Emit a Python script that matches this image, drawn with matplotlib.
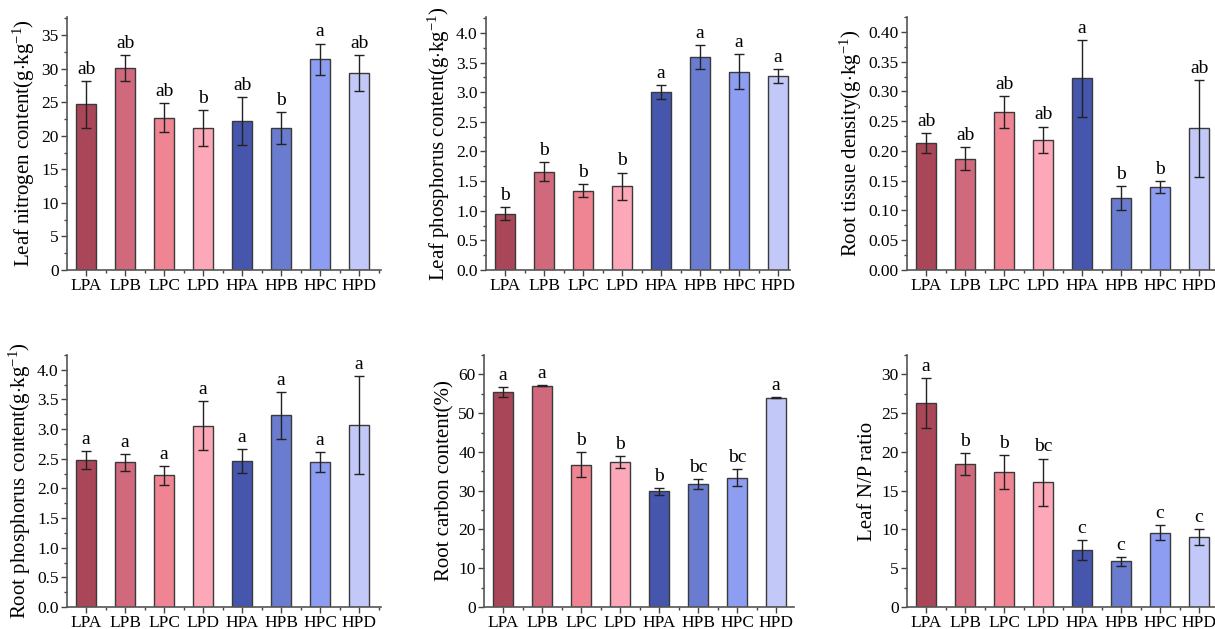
import matplotlib
matplotlib.use("Agg")
import matplotlib.pyplot as plt
from matplotlib.ticker import MultipleLocator, AutoMinorLocator
import numpy as np

plt.rcParams['font.family'] = ['Liberation Serif', 'DejaVu Serif']
plt.rcParams['mathtext.fontset'] = 'custom'
plt.rcParams['mathtext.rm'] = 'Liberation Serif'
plt.rcParams['mathtext.it'] = 'Liberation Serif:italic'
plt.rcParams['mathtext.bf'] = 'Liberation Serif:bold'

groups = ["LPA", "LPB", "LPC", "LPD", "HPA", "HPB", "HPC", "HPD"]
colors = ["#A94658", "#D0697C", "#EF8593", "#FCA8B8",
          "#4656AC", "#6A7CD0", "#8D9DF1", "#C2C8F8"]

# leaf nitrogen content
ln_mean = [24.7, 30.1, 22.7, 21.2, 22.2, 21.2, 31.4, 29.3]
ln_err = [3.5, 2.0, 2.2, 2.65, 3.6, 2.4, 2.35, 2.7]
ln_sig = ["ab", "ab", "ab", "b", "ab", "b", "a", "ab"]

# leaf phosphorus content
lp_mean = [0.95, 1.66, 1.34, 1.41, 3.00, 3.59, 3.35, 3.28]
lp_err = [0.11, 0.16, 0.11, 0.235, 0.12, 0.20, 0.29, 0.12]
lp_sig = ["b", "b", "b", "b", "a", "a", "a", "a"]

# root tissue density
rtd_mean = [0.213, 0.187, 0.266, 0.219, 0.322, 0.121, 0.140, 0.238]
rtd_err = [0.017, 0.019, 0.027, 0.022, 0.065, 0.020, 0.010, 0.081]
rtd_sig = ["ab", "ab", "ab", "ab", "a", "b", "b", "ab"]

# root phosphorus content
rp_mean = [2.48, 2.44, 2.22, 3.06, 2.46, 3.23, 2.45, 3.07]
rp_err = [0.15, 0.145, 0.155, 0.42, 0.20, 0.395, 0.17, 0.825]
rp_sig = ["a", "a", "a", "a", "a", "a", "a", "a"]

# root carbon content
rc_mean = [55.4, 57.1, 36.7, 37.4, 29.8, 31.8, 33.4, 54.0]
rc_err = [1.35, 0.2, 3.2, 1.55, 0.8, 1.3, 2.3, 0.1]
rc_sig = ["a", "a", "b", "b", "b", "bc", "bc", "a"]

# leaf N/P ratio
np_mean = [26.3, 18.4, 17.4, 16.1, 7.4, 5.9, 9.6, 9.04]
np_err = [3.2, 1.4, 2.2, 3.05, 1.3, 0.55, 1.0, 1.0]
np_sig = ["a", "b", "b", "bc", "c", "c", "c", "c"]

W, H = 1215, 629
fig = plt.figure(figsize=(W / 100, H / 100), dpi=100)

step = 39.0  # px between bar centres
unit = r"(g$\cdot$kg$^{\mathrm{-1}}$)"


def panel(left_px, top_px, bottom_px, xr, mean, err, sig, ylabel, ymax, major, fmt):
    width_px = (xr + 0.49) * step
    ax = fig.add_axes([left_px / W, 1 - bottom_px / H, width_px / W, (bottom_px - top_px) / H])
    x = np.arange(len(groups))
    ax.bar(x, mean, width=0.5, color=colors, edgecolor="#3a3a3a", linewidth=1.0,
           yerr=err, capsize=3.5, error_kw=dict(ecolor="#222222", elinewidth=1.0, capthick=1.0))
    off = ymax * 0.012
    for xi, m, e, s in zip(x, mean, err, sig):
        ax.text(xi, m + e + off, s, ha="center", va="bottom", fontsize=14)
    ax.set_xlim(-0.49, xr)
    ax.set_ylim(0, ymax)
    ax.set_xticks(x)
    ax.set_xticklabels(groups, fontsize=12.5)
    ax.xaxis.set_minor_locator(MultipleLocator(0.5))
    ax.yaxis.set_major_locator(MultipleLocator(major))
    ax.yaxis.set_minor_locator(AutoMinorLocator(2))
    ax.yaxis.set_major_formatter(plt.FormatStrFormatter(fmt))
    ax.tick_params(axis="y", labelsize=12.5)
    ax.tick_params(which="major", direction="out", length=4, width=1, color="#444444", pad=2)
    ax.tick_params(which="minor", direction="out", length=2.5, width=1, color="#444444")
    for sp in ["top", "right"]:
        ax.spines[sp].set_visible(False)
    for sp in ["left", "bottom"]:
        ax.spines[sp].set_color("#555555")
        ax.spines[sp].set_linewidth(1.2)
    ax.set_ylabel(ylabel, fontsize=15, labelpad=3)
    return ax


panel(67, 17, 270, 7.55, ln_mean, ln_err, ln_sig,
      "Leaf nitrogen content" + unit, 37.7, 5, "%d")
panel(486, 17, 270, 7.3, lp_mean, lp_err, lp_sig,
      "Leaf phosphorus content" + unit, 4.27, 0.5, "%.1f")
panel(907, 17, 270, 7.6, rtd_mean, rtd_err, rtd_sig,
      "Root tissue density" + unit, 0.425, 0.05, "%.2f")
panel(67, 355, 607, 7.55, rp_mean, rp_err, rp_sig,
      "Root phosphorus content" + unit, 4.25, 0.5, "%.1f")
panel(484, 355, 607, 7.45, rc_mean, rc_err, rc_sig,
      "Root carbon content(%)", 65, 10, "%d")
panel(907, 355, 607, 7.6, np_mean, np_err, np_sig,
      "Leaf N/P ratio", 32.5, 5, "%d")

fig.savefig("out.png", dpi=100)
